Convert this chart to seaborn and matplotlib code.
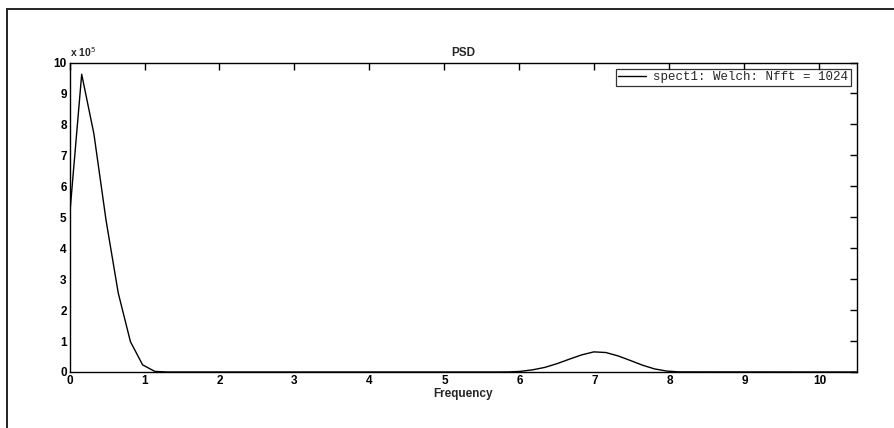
import matplotlib
matplotlib.use("Agg")
import matplotlib.pyplot as plt
import matplotlib.ticker as mticker
from matplotlib.patches import Rectangle
import seaborn as sns
import pandas as pd

# Welch PSD estimate (frequency bins and power)
freq = [0.0, 0.1625, 0.325, 0.4875, 0.65, 0.8125, 0.975, 1.1375, 1.3,
        5.69, 5.85, 6.01, 6.175, 6.34, 6.5, 6.66, 6.825, 6.99, 7.15,
        7.315, 7.48, 7.64, 7.8, 7.965, 8.13, 10.5]
psd = [5.0e5, 9.62e5, 7.7e5, 4.9e5, 2.55e5, 0.98e5, 0.23e5, 0.02e5, 0.0,
       0.0, 0.002e5, 0.02e5, 0.07e5, 0.15e5, 0.27e5, 0.41e5, 0.55e5, 0.65e5, 0.63e5,
       0.52e5, 0.37e5, 0.22e5, 0.1e5, 0.03e5, 0.003e5, 0.0]
series_label = "spect1: Welch: Nfft = 1024"
xticks = [0, 1, 2, 3, 4, 5, 6, 7, 8, 9, 10]
yticks = [0, 1, 2, 3, 4, 5, 6, 7, 8, 9, 10]

df = pd.DataFrame({"Frequency": freq, "PSD": psd})

sns.set_style("white")
plt.rcParams["font.family"] = ["Liberation Sans", "DejaVu Sans"]

fig = plt.figure(figsize=(8.94, 4.28), dpi=100)
ax = fig.add_axes([69.5 / 894, 56 / 428, 787.5 / 894, 309.5 / 428])

sns.lineplot(data=df, x="Frequency", y="PSD", ax=ax, color="black",
             linewidth=1.0, label=series_label, estimator=None, sort=False)

ax.set_xlim(0, 10.5)
ax.set_ylim(0, 10e5)
ax.set_xticks(xticks)
ax.set_yticks([v * 1e5 for v in yticks])
ax.yaxis.set_major_formatter(mticker.FuncFormatter(lambda v, p: f"{v / 1e5:g}"))

ax.tick_params(direction="in", length=5, width=1, top=True, right=True,
               labelsize=8.5, pad=2, colors="black")
for lbl in ax.get_xticklabels() + ax.get_yticklabels():
    lbl.set_fontweight("bold")
for sp in ax.spines.values():
    sp.set_color("black")
    sp.set_linewidth(1.0)

ax.set_title("PSD", fontsize=8.5, fontweight="bold", pad=5)
ax.set_xlabel("Frequency", fontsize=8.5, fontweight="bold", labelpad=1)
ax.set_ylabel("")
ax.text(0.0, 1.012, r"x 10$^{5}$", transform=ax.transAxes, fontsize=7.5,
        fontweight="bold", ha="left", va="bottom")

leg = ax.legend(loc="upper right", prop={"family": "Liberation Mono", "size": 9},
                frameon=True, fancybox=False, borderaxespad=0.5,
                handlelength=2.2, handletextpad=0.6, borderpad=0.2)
leg.get_frame().set_edgecolor("black")
leg.get_frame().set_linewidth(0.9)

# outer frame around the figure
fig.patches.append(Rectangle((7 / 894, -0.1), 1.2, (428 - 9) / 428 + 0.1,
                             transform=fig.transFigure, fill=False,
                             edgecolor="#222222", linewidth=1.4))

fig.savefig("out.png", dpi=100)
